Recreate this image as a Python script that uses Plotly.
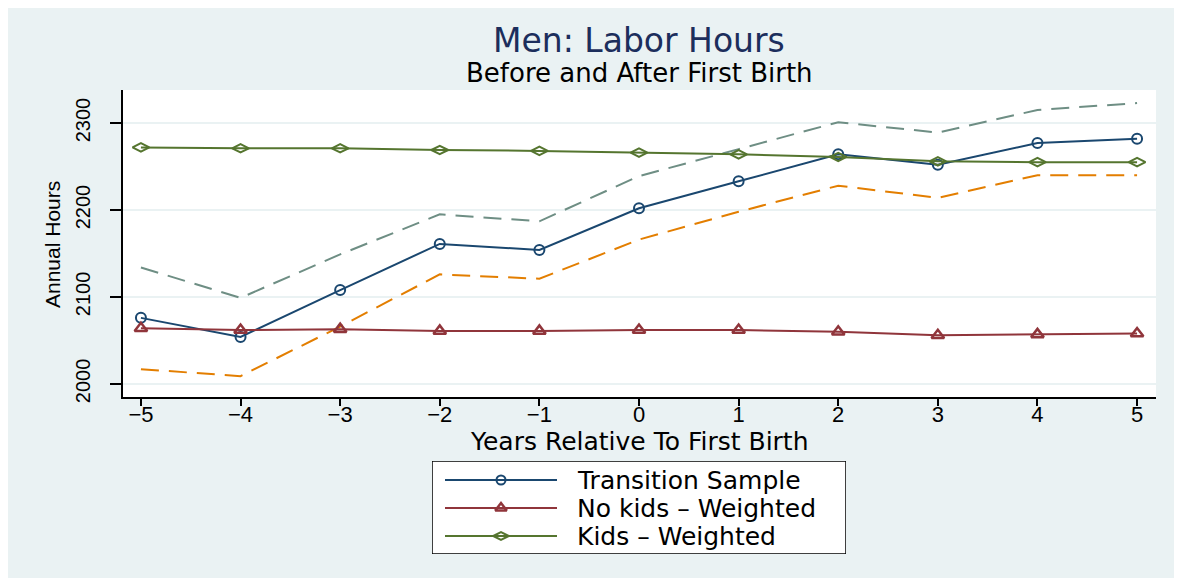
import plotly.graph_objects as go

years = [-5, -4, -3, -2, -1, 0, 1, 2, 3, 4, 5]
transition = [2076, 2054, 2108, 2161, 2154, 2202, 2233, 2264, 2252, 2277, 2282]
upper_ci = [2134, 2099, 2149, 2195, 2187, 2239, 2270, 2301, 2289, 2315, 2323]
lower_ci = [2017, 2009, 2066, 2126, 2121, 2166, 2198, 2228, 2214, 2240, 2240]
nokids = [2064, 2062, 2063, 2061, 2061, 2062, 2062, 2060, 2056, 2057, 2058]
kids = [2272, 2271, 2271, 2269, 2268, 2266, 2264, 2261, 2256, 2255, 2255]
y_ticks = [2000, 2100, 2200, 2300]
x_ticktext = ["\u2212" + str(-v) if v < 0 else str(v) for v in years]
series_names = ["Transition Sample", "No kids \u2013 Weighted", "Kids \u2013 Weighted"]

navy = "#1a476f"
maroon = "#90353b"
green = "#55752f"
orange = "#e37e00"
teal = "#6e8e84"
bg = "#eaf2f3"

# page offset from body margin
OFF = 8
W, H = 1182 - OFF, 578 - OFF


def px_x(p):
    return (p - OFF) / W


def px_y(p):
    return 1 - (p - OFF) / H


# plot area in page pixels
PX0, PX1, PY0, PY1 = 123, 1156, 90, 397

sans = "Liberation Sans, Arial, Helvetica, sans-serif"
wide = "DejaVu Sans, Liberation Sans, sans-serif"

sym = ["circle-open", "triangle-up-open", "diamond-wide-open"]
msize = [10, 11, 12]
mline = [2, 2.5, 2]
colors = [navy, maroon, green]
values = [transition, nokids, kids]

fig = go.Figure()
fig.add_trace(go.Scatter(x=years, y=upper_ci, mode="lines", showlegend=False, hoverinfo="skip",
                         line=dict(color=teal, width=2, dash="18px,10px")))
fig.add_trace(go.Scatter(x=years, y=lower_ci, mode="lines", showlegend=False, hoverinfo="skip",
                         line=dict(color=orange, width=2, dash="18px,10px")))
for name, vals, c, s, ms, ml in zip(series_names, values, colors, sym, msize, mline):
    fig.add_trace(go.Scatter(x=years, y=vals, mode="lines+markers", name=name, showlegend=False,
                             line=dict(color=c, width=2),
                             marker=dict(symbol=s, size=ms, color=c, line=dict(width=ml))))

# custom legend (overlay axis in page-pixel units)
leg_x0, leg_x1, leg_y0, leg_y1 = 432, 846, 461, 554
row_y = [480, 508, 536]
line_x0, line_x1, text_x = 445, 557, 575
for name, c, s, ms, ml, ry in zip(series_names, colors, sym, msize, mline, row_y):
    fig.add_trace(go.Scatter(x=[line_x0, line_x1], y=[ry, ry], mode="lines", xaxis="x2", yaxis="y2",
                             showlegend=False, hoverinfo="skip", line=dict(color=c, width=2)))
    fig.add_trace(go.Scatter(x=[(line_x0 + line_x1) / 2], y=[ry], mode="markers", xaxis="x2", yaxis="y2",
                             showlegend=False, hoverinfo="skip",
                             marker=dict(symbol=s, size=ms - 1, color=c, line=dict(width=ml))))

annotations = [
    dict(text="Men: Labor Hours", xref="paper", yref="paper", x=px_x(639), y=px_y(41),
         xanchor="center", yanchor="middle", showarrow=False,
         font=dict(family=wide, size=33, color="#1c2e5c")),
    dict(text="Before and After First Birth", xref="paper", yref="paper", x=px_x(639), y=px_y(73),
         xanchor="center", yanchor="middle", showarrow=False,
         font=dict(family=wide, size=26, color="black")),
    dict(text="Years Relative To First Birth", xref="paper", yref="paper", x=px_x(639), y=px_y(441),
         xanchor="center", yanchor="middle", showarrow=False,
         font=dict(family=wide, size=25, color="black")),
    dict(text="Annual Hours", xref="paper", yref="paper", x=px_x(53), y=px_y(245), textangle=-90,
         xanchor="center", yanchor="middle", showarrow=False,
         font=dict(family=sans, size=21, color="black")),
]
for name, ry in zip(series_names, row_y):
    annotations.append(dict(text=name, xref="x2", yref="y2", x=text_x, y=ry, xanchor="left",
                            yanchor="middle", showarrow=False,
                            font=dict(family=wide, size=25, color="black")))

fig.update_layout(
    width=W, height=H,
    margin=dict(l=0, r=0, t=0, b=0, autoexpand=False),
    paper_bgcolor=bg,
    plot_bgcolor="white",
    showlegend=False,
    shapes=[dict(type="rect", xref="x2", yref="y2", x0=leg_x0, x1=leg_x1, y0=leg_y0, y1=leg_y1,
                 fillcolor="white", line=dict(color="black", width=1.5), layer="below")],
    annotations=annotations,
    xaxis=dict(domain=[px_x(PX0), px_x(PX1)], range=[-5.18, 5.19], tickvals=years, ticktext=x_ticktext,
               showgrid=False, zeroline=False, showline=True, linecolor="black", linewidth=2,
               ticks="outside", ticklen=7, tickcolor="black", tickwidth=1.5,
               ticklabelstandoff=-10, automargin=False,
               tickfont=dict(family=sans, size=22, color="black")),
    yaxis=dict(domain=[px_y(PY1), px_y(PY0)], range=[1985, 2338], tickvals=y_ticks, tickangle=-90,
               showgrid=True, gridcolor=bg, gridwidth=2, zeroline=False,
               showline=True, linecolor="black", linewidth=2,
               ticks="outside", ticklen=11, tickcolor="black", tickwidth=1.5,
               ticklabelstandoff=12, automargin=False,
               tickfont=dict(family=sans, size=20, color="black")),
    xaxis2=dict(domain=[px_x(leg_x0), px_x(leg_x1)], range=[leg_x0, leg_x1], visible=False,
                anchor="y2", fixedrange=True),
    yaxis2=dict(domain=[px_y(leg_y1), px_y(leg_y0)], range=[leg_y1, leg_y0], visible=False,
                anchor="x2", fixedrange=True),
)

fig.write_html("out.html")
